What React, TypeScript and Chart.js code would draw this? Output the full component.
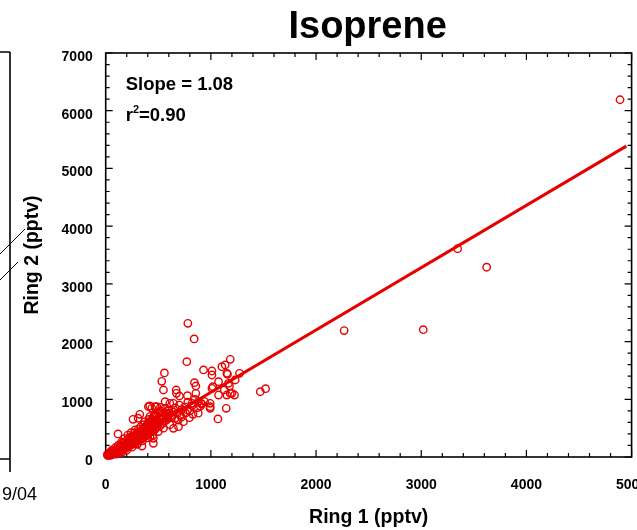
import React, { useEffect, useRef } from "react";
import { Chart, registerables } from "chart.js";

Chart.register(...registerables);

// Isoprene mixing ratios measured at the two rings (pptv)
const ring1 = [
  4890, 3346, 3622, 2267, 3019, 1470, 1520, 781, 841, 771,
  558, 533, 549, 670, 701, 777, 844, 857, 857, 930,
  1010, 1010, 1105, 1136, 1184, 1152, 1073, 1010, 1073, 993,
  993, 993, 1146, 1067, 1184, 905, 819, 777, 796, 708,
  739, 644, 565, 565, 596, 486, 438, 644, 1158, 1272,
  1231, 1019, 1168, 1177, 1127, 1152, 1200, 1225, 914, 673,
  419, 610, 324, 260, 308, 117, 692, 581, 660, 453,
  453, 422, 300, 345, 263, 422, 486, 880, 406, 470,
  15, 20, 25, 30, 35, 40, 45, 50, 55, 60,
  65, 70, 75, 80, 85, 90, 95, 100, 105, 110,
  115, 120, 125, 130, 135, 140, 145, 150, 155, 160,
  165, 170, 175, 180, 185, 190, 195, 200, 205, 210,
  215, 220, 225, 230, 235, 240, 245, 250, 255, 260,
  265, 270, 275, 280, 285, 290, 295, 300, 305, 310,
  315, 320, 325, 330, 335, 340, 345, 350, 355, 360,
  365, 370, 375, 380, 385, 390, 395, 400, 405, 410,
  415, 420, 425, 430, 435, 440, 445, 450, 455, 460,
  470, 475, 480, 490, 500, 505, 515, 520, 530, 540,
  550, 560, 575, 590, 600, 620, 640, 660, 680, 700,
  720, 750, 780, 820, 850, 880, 60, 90, 150, 180,
  210, 240, 280, 330, 370, 420, 470, 520, 200, 250,
  300, 350, 400, 450, 500, 550, 100, 130, 160, 40,
  70, 120, 160, 230, 270, 310, 360, 410, 460, 510,
  610, 630, 690, 720, 760, 800, 830, 870, 900, 940,
  140, 175, 205, 235, 265, 295, 325, 355, 385, 415,
  445, 475, 505, 535, 565, 595, 190, 220, 250, 280,
  310, 340, 370, 400, 430, 460, 490, 520, 545, 580,
];

const ring2 = [
  6190, 3610, 3288, 2190, 2206, 1132, 1184, 2317, 2045, 1652,
  1456, 1312, 1161, 1161, 1057, 1063, 1288, 1230, 1104, 1508,
  1490, 1421, 1565, 1594, 1693, 1450, 1305, 1190, 1074, 930,
  844, 872, 844, 659, 1104, 930, 930, 815, 681, 728,
  612, 930, 958, 844, 815, 872, 844, 497, 1433, 1450,
  1334, 1218, 1277, 1230, 1161, 1074, 1104, 1074, 918, 1104,
  884, 930, 740, 653, 671, 399, 525, 641, 671, 237,
  324, 352, 220, 190, 295, 468, 525, 760, 872, 872,
  40, 25, 50, 35, 60, 45, 30, 70, 55, 40,
  80, 60, 95, 70, 55, 110, 85, 100, 75, 130,
  105, 90, 150, 120, 100, 165, 140, 115, 180, 150,
  130, 200, 170, 140, 215, 185, 160, 240, 200, 170,
  260, 230, 190, 280, 240, 210, 300, 265, 220, 330,
  280, 240, 350, 300, 250, 380, 320, 270, 400, 340,
  290, 420, 360, 300, 445, 380, 320, 470, 400, 340,
  500, 420, 360, 530, 440, 380, 560, 460, 400, 600,
  480, 420, 620, 500, 440, 650, 520, 460, 700, 540,
  480, 720, 580, 520, 760, 600, 540, 800, 640, 580,
  700, 620, 760, 680, 800, 720, 780, 850, 760, 900,
  820, 870, 950, 890, 1000, 960, 120, 160, 260, 320,
  380, 420, 470, 520, 610, 700, 760, 860, 120, 170,
  230, 280, 330, 380, 440, 500, 50, 70, 90, 80,
  120, 200, 240, 350, 420, 480, 560, 650, 700, 780,
  560, 700, 640, 690, 760, 800, 740, 850, 880, 960,
  210, 250, 290, 330, 360, 400, 440, 480, 520, 560,
  600, 640, 680, 720, 740, 760, 230, 270, 310, 340,
  370, 410, 450, 500, 540, 580, 620, 660, 660, 700,
];

// Least-squares fit reported on the plot
const fitSlope = 1.08;
const fitIntercept = 40;
const fitRange = [30, 4950];
const slopeLabel = "Slope = 1.08";
const r2Value = "0.90";

const xRange = [0, 5000];
const yRange = [0, 7000];
const majorStep = 1000;
const minorStep = 200;

const RED = "#e60000";
const FONT = '"Liberation Sans", Arial, Helvetica, sans-serif';

// Box frame with inward major/minor ticks on all four sides
const framePlugin = {
  id: "frame",
  beforeDatasetsDraw(chart: any) {
    const { ctx, chartArea: a, scales } = chart;
    const xs = scales.x;
    const ys = scales.y;
    ctx.save();
    ctx.strokeStyle = "#000";
    ctx.lineWidth = 1.6;
    ctx.strokeRect(a.left, a.top, a.right - a.left, a.bottom - a.top);
    ctx.lineWidth = 1.2;
    ctx.beginPath();
    for (let v = xRange[0]; v <= xRange[1]; v += minorStep) {
      const px = xs.getPixelForValue(v);
      const len = v % majorStep === 0 ? 7 : 4;
      ctx.moveTo(px, a.bottom);
      ctx.lineTo(px, a.bottom - len);
      ctx.moveTo(px, a.top);
      ctx.lineTo(px, a.top + len);
    }
    for (let v = yRange[0]; v <= yRange[1]; v += minorStep) {
      const py = ys.getPixelForValue(v);
      const len = v % majorStep === 0 ? 7 : 4;
      ctx.moveTo(a.left, py);
      ctx.lineTo(a.left + len, py);
      ctx.moveTo(a.right, py);
      ctx.lineTo(a.right - len, py);
    }
    ctx.stroke();
    ctx.restore();
  },
};

// Title, fit statistics and the edge of the neighbouring panel
const textPlugin = {
  id: "texts",
  afterDraw(chart: any) {
    const { ctx, chartArea: a } = chart;
    ctx.save();
    ctx.fillStyle = "#000";
    ctx.textBaseline = "alphabetic";

    ctx.textAlign = "center";
    ctx.font = `bold 38px ${FONT}`;
    ctx.fillText("Isoprene", (a.left + a.right) / 2 - 1, 38);

    ctx.textAlign = "left";
    ctx.font = `bold 18.5px ${FONT}`;
    const lx = a.left + 20;
    ctx.fillText(slopeLabel, lx, 90);
    ctx.fillText("r", lx, 121);
    const rw = ctx.measureText("r").width;
    ctx.font = `bold 11px ${FONT}`;
    ctx.fillText("2", lx + rw, 113);
    const sw = ctx.measureText("2").width;
    ctx.font = `bold 18.5px ${FONT}`;
    ctx.fillText("=" + r2Value, lx + rw + sw, 121);

    // neighbouring panel edge
    ctx.strokeStyle = "#000";
    ctx.lineWidth = 1.6;
    ctx.beginPath();
    ctx.moveTo(0, 52);
    ctx.lineTo(10, 52);
    ctx.moveTo(10, 52);
    ctx.lineTo(10, 472);
    ctx.moveTo(0, 459);
    ctx.lineTo(10, 459);
    ctx.stroke();
    ctx.lineWidth = 1;
    ctx.beginPath();
    ctx.moveTo(0, 254);
    ctx.lineTo(25, 229);
    ctx.moveTo(0, 280);
    ctx.lineTo(18, 262);
    ctx.stroke();
    ctx.font = `18px ${FONT}`;
    ctx.fillText("9/04", 2, 500);
    ctx.restore();
  },
};

const plainNumber = (v: any) => String(v);

export default function App() {
  const canvasRef = useRef<HTMLCanvasElement | null>(null);

  useEffect(() => {
    const canvas = canvasRef.current;
    if (!canvas) return;
    const points = ring1.map((x, i) => ({ x, y: ring2[i] }));
    const fitLine = fitRange.map((x) => ({ x, y: fitSlope * x + fitIntercept }));

    const chart = new Chart(canvas, {
      type: "scatter",
      data: {
        datasets: [
          {
            label: "Isoprene",
            data: points,
            pointStyle: "circle",
            pointRadius: 3.7,
            pointBorderWidth: 1.4,
            borderColor: RED,
            backgroundColor: "rgba(0,0,0,0)",
            clip: false as any,
            order: 2,
          },
          {
            type: "line" as any,
            label: "Fit",
            data: fitLine,
            borderColor: RED,
            borderWidth: 3,
            pointRadius: 0,
            showLine: true,
            order: 1,
          } as any,
        ],
      },
      options: {
        animation: false,
        responsive: false,
        devicePixelRatio: 1,
        layout: { padding: { left: 0, top: 53, right: 5.3, bottom: 0 } },
        plugins: {
          legend: { display: false },
          tooltip: { enabled: false },
        },
        scales: {
          x: {
            type: "linear",
            min: xRange[0],
            max: xRange[1],
            grid: { display: false, drawTicks: false },
            border: { display: false },
            ticks: {
              stepSize: majorStep,
              padding: 20,
              color: "#000",
              font: { family: FONT, size: 14, weight: "bold" },
              maxRotation: 0,
              callback: plainNumber,
            },
            title: {
              display: true,
              text: "Ring 1 (pptv)",
              color: "#000",
              font: { family: FONT, size: 19.5, weight: "bold" },
              padding: { top: 0, bottom: 1 },
            },
            afterFit(s: any) {
              s.height = 73;
              s.paddingLeft = 0;
              s.paddingRight = 0;
            },
          },
          y: {
            type: "linear",
            min: yRange[0],
            max: yRange[1],
            grid: { display: false, drawTicks: false },
            border: { display: false },
            ticks: {
              stepSize: majorStep,
              padding: 13,
              labelOffset: 4,
              color: "#000",
              font: { family: FONT, size: 14, weight: "bold" },
              callback: plainNumber,
            },
            title: {
              display: true,
              text: "Ring 2 (pptv)",
              color: "#000",
              font: { family: FONT, size: 19.5, weight: "bold" },
              padding: { top: 21, bottom: 0 },
            },
            afterFit(s: any) {
              s.width = 105.7;
              s.paddingTop = 0;
              s.paddingBottom = 0;
            },
          },
        },
      },
      plugins: [framePlugin, textPlugin],
    });

    return () => chart.destroy();
  }, []);

  return (
    <div style={{ position: "absolute", left: 0, top: 0, width: 637, height: 530, background: "#fff" }}>
      <canvas ref={canvasRef} width={637} height={530} style={{ display: "block" }} />
    </div>
  );
}
